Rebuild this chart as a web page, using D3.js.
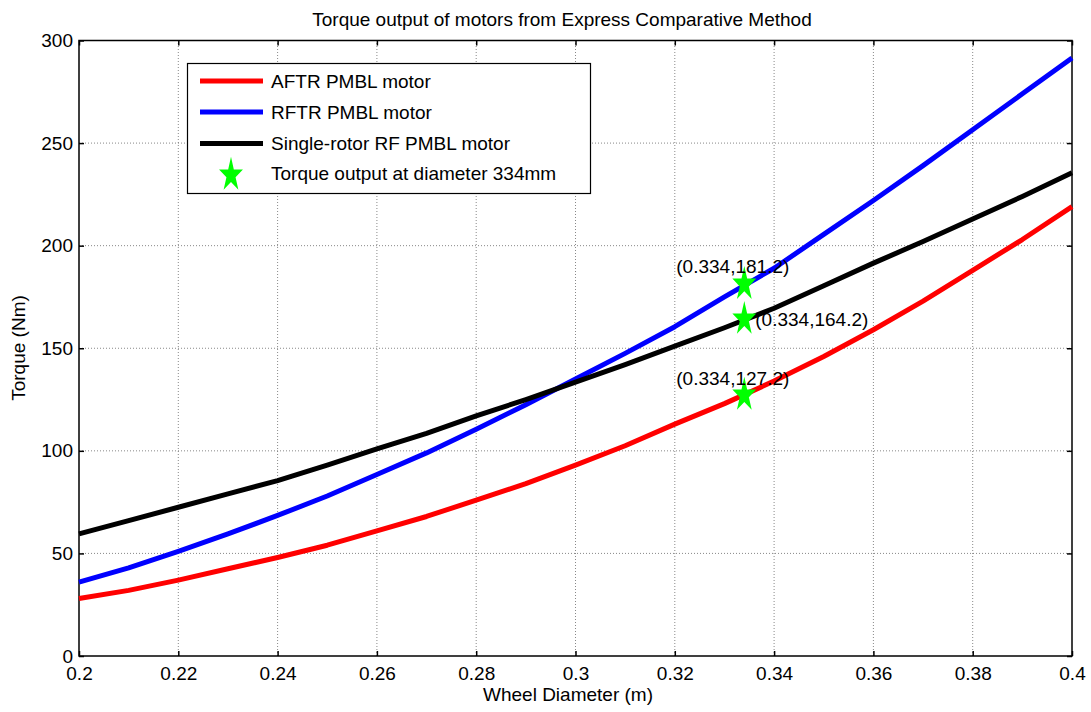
<!DOCTYPE html>
<html>
<head>
<meta charset="utf-8">
<script src="https://cdn.jsdelivr.net/npm/d3@7"></script>
<style>
  body { margin: 0; background: #fff; }
  svg text { font-family: "Liberation Sans", Arial, sans-serif; fill: #000; }
</style>
</head>
<body>
<div id="chart"></div>
<script>

// chart values
const diameters = [0.20, 0.21, 0.22, 0.23, 0.24, 0.25, 0.26, 0.27, 0.28, 0.29, 0.30,
                   0.31, 0.32, 0.33, 0.34, 0.35, 0.36, 0.37, 0.38, 0.39, 0.40];

const aftrTorque   = [28, 32, 37, 42.5, 48, 54, 61, 68, 76, 84, 93,
                      102.5, 113, 123, 134, 146, 159, 173, 188, 203, 219];
const rftrTorque   = [36, 43, 51, 59.5, 68.5, 78, 88.5, 99, 110.5, 122.5, 135,
                      147.5, 160.5, 175, 189, 205.5, 222, 239, 256.5, 274, 291.5];
const singleTorque = [59.5, 66, 72.5, 79, 85.5, 93, 101, 108.5, 117, 125, 133.5,
                      142, 151, 160, 169.5, 180.5, 191.5, 202, 213, 224, 235.5];

const seriesNames  = ["AFTR PMBL motor", "RFTR PMBL motor", "Single-rotor RF PMBL motor"];
const starName     = "Torque output at diameter 334mm";

// marked points at 334 mm
const starX = 0.334;
const starTorque = [181.2, 164.2, 127.2];

const xTicks = [0.2, 0.22, 0.24, 0.26, 0.28, 0.3, 0.32, 0.34, 0.36, 0.38, 0.4];
const yTicks = [0, 50, 100, 150, 200, 250, 300];

const width = 1091;
const height = 712;
const margin = { top: 40.5, right: 19, bottom: 56, left: 79 };

const svg = d3.select("#chart")
  .append("svg")
  .attr("width", width)
  .attr("height", height);

let xScale = d3.scaleLinear()
  .domain([0.2, 0.4])
  .range([margin.left, width - margin.right]);

let yScale = d3.scaleLinear()
  .domain([0, 300])
  .range([height - margin.bottom, margin.top]);

const fmt = d3.format("~g");
const fontSize = "19px";

// dotted grid
const grid = svg.append("g")
  .attr("stroke", "#6a6a6a")
  .attr("stroke-width", 0.8)
  .attr("stroke-dasharray", "1,2");

grid.selectAll(".gx")
  .data(xTicks.slice(1, -1))
  .enter()
  .append("line")
    .attr("x1", (d) => xScale(d))
    .attr("x2", (d) => xScale(d))
    .attr("y1", yScale(0))
    .attr("y2", yScale(300));

grid.selectAll(".gy")
  .data(yTicks.slice(1, -1))
  .enter()
  .append("line")
    .attr("x1", xScale(0.2))
    .attr("x2", xScale(0.4))
    .attr("y1", (d) => yScale(d))
    .attr("y2", (d) => yScale(d));

// axes, ticks pointing inward on all four sides
function styleAxis(g) {
  g.select(".domain").remove();
  g.selectAll(".tick line").attr("stroke", "#000").attr("stroke-width", 1.5);
  g.selectAll("text").attr("font-size", fontSize).attr("font-family", null);
}

svg.append("g")
  .attr("transform", `translate(0,${yScale(0)})`)
  .call(d3.axisBottom(xScale).tickValues(xTicks).tickFormat(fmt).tickSizeInner(-5).tickSizeOuter(0).tickPadding(11))
  .call(styleAxis);

svg.append("g")
  .attr("transform", `translate(0,${yScale(300)})`)
  .call(d3.axisTop(xScale).tickValues(xTicks).tickFormat("").tickSizeInner(-5).tickSizeOuter(0))
  .call(styleAxis);

svg.append("g")
  .attr("transform", `translate(${xScale(0.2)},0)`)
  .call(d3.axisLeft(yScale).tickValues(yTicks).tickFormat(fmt).tickSizeInner(-5).tickSizeOuter(0).tickPadding(6))
  .call(styleAxis);

svg.append("g")
  .attr("transform", `translate(${xScale(0.4)},0)`)
  .call(d3.axisRight(yScale).tickValues(yTicks).tickFormat("").tickSizeInner(-5).tickSizeOuter(0))
  .call(styleAxis);

// axes box
svg.append("rect")
  .attr("x", xScale(0.2))
  .attr("y", yScale(300))
  .attr("width", xScale(0.4) - xScale(0.2))
  .attr("height", yScale(0) - yScale(300))
  .attr("fill", "none")
  .attr("stroke", "#000")
  .attr("stroke-width", 1.5);

// curves
const series = [
  { name: seriesNames[0], values: aftrTorque,   color: "#ff0000" },
  { name: seriesNames[1], values: rftrTorque,   color: "#0000ff" },
  { name: seriesNames[2], values: singleTorque, color: "#000000" }
];

const line = d3.line()
  .x((d, i) => xScale(diameters[i]))
  .y((d) => yScale(d));

svg.selectAll(".curve")
  .data(series)
  .enter()
  .append("path")
    .attr("class", "curve")
    .attr("d", (d) => line(d.values))
    .attr("fill", "none")
    .attr("stroke", (d) => d.color)
    .attr("stroke-width", 5)
    .attr("stroke-linejoin", "round");

// green pentagram markers (taller than wide, like the picture)
const star = d3.symbol(d3.symbolStar, 372);
const starScaleX = 0.69;

svg.selectAll(".star")
  .data(starTorque)
  .enter()
  .append("path")
    .attr("class", "star")
    .attr("d", star())
    .attr("transform", (d) => `translate(${xScale(starX)},${yScale(d)}) scale(${starScaleX},1)`)
    .attr("fill", "#00ff00");

// data tips next to the stars
const tipOffset = [[-68, -11], [11, 7], [-68, -10]];

svg.selectAll(".tip")
  .data(starTorque)
  .enter()
  .append("text")
    .attr("x", (d, i) => xScale(starX) + tipOffset[i][0])
    .attr("y", (d, i) => yScale(d) + tipOffset[i][1])
    .attr("font-size", fontSize)
    .text((d) => "(" + starX + "," + d.toFixed(1) + ")");

// legend
const legend = svg.append("g");

legend.append("rect")
  .attr("x", 187.5)
  .attr("y", 63.5)
  .attr("width", 403)
  .attr("height", 130)
  .attr("fill", "#fff")
  .attr("stroke", "#000")
  .attr("stroke-width", 1.2);

const legendY = [81, 112, 143.5];

series.forEach((s, i) => {
  legend.append("line")
    .attr("x1", 200).attr("x2", 263)
    .attr("y1", legendY[i]).attr("y2", legendY[i])
    .attr("stroke", s.color)
    .attr("stroke-width", 5);
  legend.append("text")
    .attr("x", 271)
    .attr("y", legendY[i])
    .attr("dy", "0.35em")
    .attr("font-size", fontSize)
    .text(s.name);
});

legend.append("path")
  .attr("d", star())
  .attr("transform", `translate(231,175) scale(${starScaleX},1)`)
  .attr("fill", "#00ff00");

legend.append("text")
  .attr("x", 271)
  .attr("y", 173)
  .attr("dy", "0.35em")
  .attr("font-size", fontSize)
  .text(starName);

// title and axis labels
svg.append("text")
  .attr("x", 562)
  .attr("y", 26)
  .attr("text-anchor", "middle")
  .attr("font-size", fontSize)
  .text("Torque output of motors from Express Comparative Method");

svg.append("text")
  .attr("x", 568)
  .attr("y", 701)
  .attr("text-anchor", "middle")
  .attr("font-size", fontSize)
  .text("Wheel Diameter (m)");

svg.append("text")
  .attr("transform", "translate(25,348) rotate(-90)")
  .attr("text-anchor", "middle")
  .attr("font-size", fontSize)
  .text("Torque (Nm)");

</script>
</body>
</html>
